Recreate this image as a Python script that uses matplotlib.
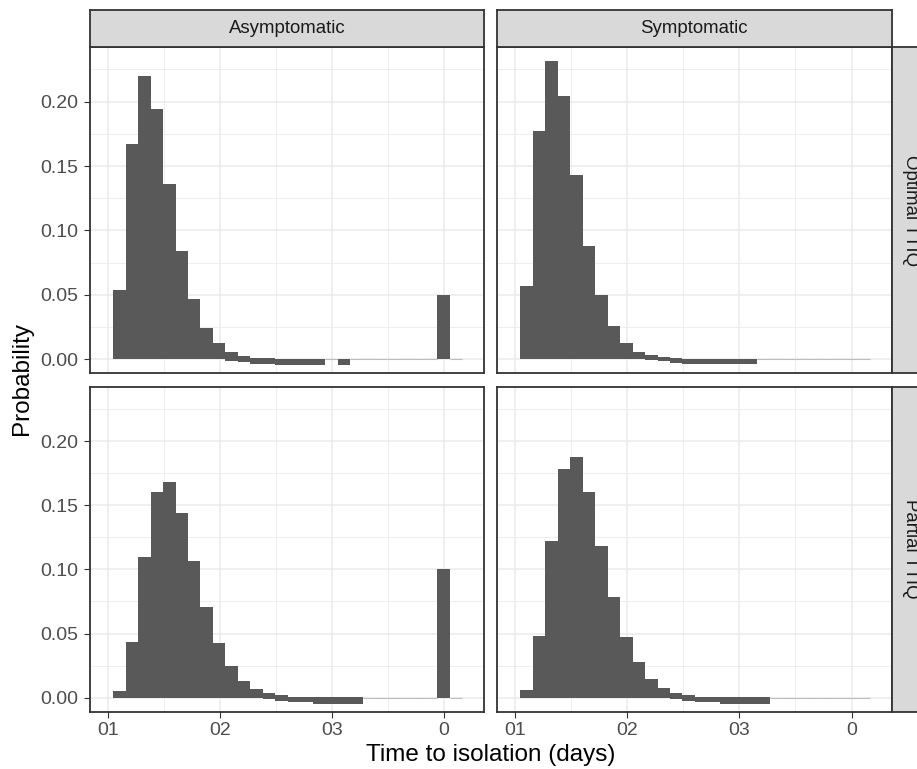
import matplotlib
matplotlib.use("Agg")
import matplotlib.pyplot as plt
import numpy as np

# ---------------- data ----------------
col_labels = ["Asymptomatic", "Symptomatic"]
row_labels = ["Optimal TTIQ", "Partial TTIQ"]
x_tick_values = [0, 10, 20, 30]
x_tick_labels = ["01", "02", "03", "0"]
y_tick_values = [0.00, 0.05, 0.10, 0.15, 0.20]
y_tick_labels = ["0.00", "0.05", "0.10", "0.15", "0.20"]

bin_first_edge = 0.5
bin_width = 10 / 9

# probability per bin (28 bins)
asym_optimal = [0.0539, 0.1674, 0.2198, 0.1939, 0.1363, 0.0842, 0.0469, 0.0246,
                0.0127, 0.0057, 0.0029, 0.0010, 0.0010, 0.0003, 0.0003, 0.0003,
                0.0003, 0.0, 0.0003, 0.0, 0.0, 0.0, 0.0, 0.0, 0.0, 0.0, 0.0498, 0.0]
sym_optimal = [0.0570, 0.1770, 0.2312, 0.2040, 0.1433, 0.0881, 0.0500, 0.0259,
               0.0127, 0.0057, 0.0034, 0.0021, 0.0013, 0.0005, 0.0005, 0.0005,
               0.0005, 0.0005, 0.0005, 0.0, 0.0, 0.0, 0.0, 0.0, 0.0, 0.0, 0.0, 0.0]
asym_partial = [0.0054, 0.0435, 0.1096, 0.1602, 0.1680, 0.1439, 0.1065, 0.0708,
                0.0428, 0.0249, 0.0132, 0.0070, 0.0039, 0.0018, 0.0008, 0.0008,
                0.0002, 0.0002, 0.0002, 0.0002, 0.0, 0.0, 0.0, 0.0, 0.0, 0.0, 0.1003, 0.0]
sym_partial = [0.0062, 0.0482, 0.1221, 0.1781, 0.1874, 0.1602, 0.1182, 0.0785,
               0.0474, 0.0280, 0.0148, 0.0078, 0.0039, 0.0018, 0.0008, 0.0008,
               0.0002, 0.0002, 0.0002, 0.0002, 0.0, 0.0, 0.0, 0.0, 0.0, 0.0, 0.0, 0.0]

# small extension of the drawn bars below zero, as seen in the picture
asym_optimal_dip = [0, 0, 0, 0, 0, 0, 0, 0, 0, 0.0010, 0.0021, 0.0033, 0.0033, 0.0041,
                    0.0041, 0.0041, 0.0041, 0, 0.0041, 0, 0, 0, 0, 0, 0, 0, 0, 0]
sym_optimal_dip = [0, 0, 0, 0, 0, 0, 0, 0, 0, 0, 0.0005, 0.0013, 0.0026, 0.0036,
                   0.0039, 0.0039, 0.0039, 0.0039, 0.0039, 0, 0, 0, 0, 0, 0, 0, 0, 0]
asym_partial_dip = [0, 0, 0, 0, 0, 0, 0, 0, 0, 0, 0, 0.0005, 0.0010, 0.0029, 0.0036,
                    0.0036, 0.0047, 0.0047, 0.0047, 0.0047, 0, 0, 0, 0, 0, 0, 0, 0]
sym_partial_dip = [0, 0, 0, 0, 0, 0, 0, 0, 0, 0.0005, 0, 0.0005, 0.0010, 0.0029, 0.0036,
                   0.0036, 0.0047, 0.0047, 0.0047, 0.0047, 0, 0, 0, 0, 0, 0, 0, 0]

panels = [[(asym_optimal, asym_optimal_dip), (sym_optimal, sym_optimal_dip)],
          [(asym_partial, asym_partial_dip), (sym_partial, sym_partial_dip)]]

# ---------------- style ----------------
plt.rcParams['font.family'] = ['Liberation Sans', 'DejaVu Sans']
W, H = 917, 769
fig = plt.figure(figsize=(W / 100, H / 100), dpi=100)
fig.patch.set_facecolor('white')

BAR = '#595959'
GRID = '#EBEBEB'
BORDER = '#333333'
STRIP = '#D9D9D9'
TICKTXT = '#4D4D4D'
TICK_FS = 14
STRIP_FS = 13.4
TITLE_FS = 17.5

col_x = [(89.7, 484.3), (496.7, 891.7)]
row_y = [(47.0, 373.3), (386.7, 711.7)]
strip_top = (10.0, 47.0)
strip_right = (891.7, 928.7)

xlim = (-1.6, 33.58)
ylim = (-0.0109, 0.2424)


def px_axes(x0, x1, y0, y1):
    return fig.add_axes([x0 / W, 1 - y1 / H, (x1 - x0) / W, (y1 - y0) / H])


n_bins = len(asym_optimal)
left_edges = bin_first_edge + bin_width * np.arange(n_bins)

for r in range(2):
    for c in range(2):
        vals, dips = panels[r][c]
        vals = np.array(vals)
        dips = np.array(dips)
        ax = px_axes(col_x[c][0], col_x[c][1], row_y[r][0], row_y[r][1])
        ax.set_facecolor('white')
        ax.set_xlim(*xlim)
        ax.set_ylim(*ylim)
        ax.set_xticks(x_tick_values)
        ax.set_xticks([5, 15, 25], minor=True)
        ax.set_yticks(y_tick_values)
        ax.set_yticks([0.025, 0.075, 0.125, 0.175, 0.225], minor=True)
        ax.grid(True, which='major', color=GRID, linewidth=1.1)
        ax.grid(True, which='minor', color=GRID, linewidth=0.6)
        ax.set_axisbelow(True)
        zero = vals <= 0
        ax.bar(left_edges[zero], np.zeros(zero.sum()), width=bin_width, align='edge',
               bottom=0, facecolor='none', edgecolor='#BDBDBD', linewidth=0.8, zorder=2)
        nz = ~zero
        ax.bar(left_edges[nz], vals[nz] + dips[nz], width=bin_width, align='edge',
               bottom=-dips[nz], color=BAR, linewidth=0, zorder=3)
        for s in ax.spines.values():
            s.set_color(BORDER)
            s.set_linewidth(1.3)
            s.set_zorder(5)
        ax.tick_params(which='minor', length=0)
        ax.tick_params(which='major', length=4.6, width=0.8, color=BORDER,
                       labelsize=TICK_FS, labelcolor=TICKTXT)
        ax.tick_params(axis='y', pad=4.0)
        ax.tick_params(axis='x', pad=3.0)
        if c == 0:
            ax.set_yticklabels(y_tick_labels)
        else:
            ax.tick_params(axis='y', length=0, labelleft=False)
        if r == 1:
            ax.set_xticklabels(x_tick_labels)
        else:
            ax.tick_params(axis='x', length=0, labelbottom=False)

for c in range(2):
    sax = px_axes(col_x[c][0], col_x[c][1], strip_top[0], strip_top[1])
    sax.set_facecolor(STRIP)
    sax.set_xticks([]); sax.set_yticks([])
    for s in sax.spines.values():
        s.set_color(BORDER); s.set_linewidth(1.3)
    sax.text(0.5, 0.5, col_labels[c], transform=sax.transAxes, ha='center',
             va='center', fontsize=STRIP_FS, color='#1A1A1A')
for r in range(2):
    sax = px_axes(strip_right[0], strip_right[1], row_y[r][0], row_y[r][1])
    sax.set_facecolor(STRIP)
    sax.set_xticks([]); sax.set_yticks([])
    for s in sax.spines.values():
        s.set_color(BORDER); s.set_linewidth(1.3)
    sax.text(0.5, 0.5, row_labels[r], transform=sax.transAxes, ha='center',
             va='center', rotation=-90, fontsize=STRIP_FS, color='#1A1A1A')

fig.text(22 / W, 1 - 379 / H, "Probability", rotation=90, ha='center', va='center',
         fontsize=TITLE_FS, color='black')
fig.text(490.7 / W, 1 - 755 / H, "Time to isolation (days)", ha='center', va='center',
         fontsize=TITLE_FS, color='black')

fig.savefig("out.png", dpi=100, facecolor='white')
